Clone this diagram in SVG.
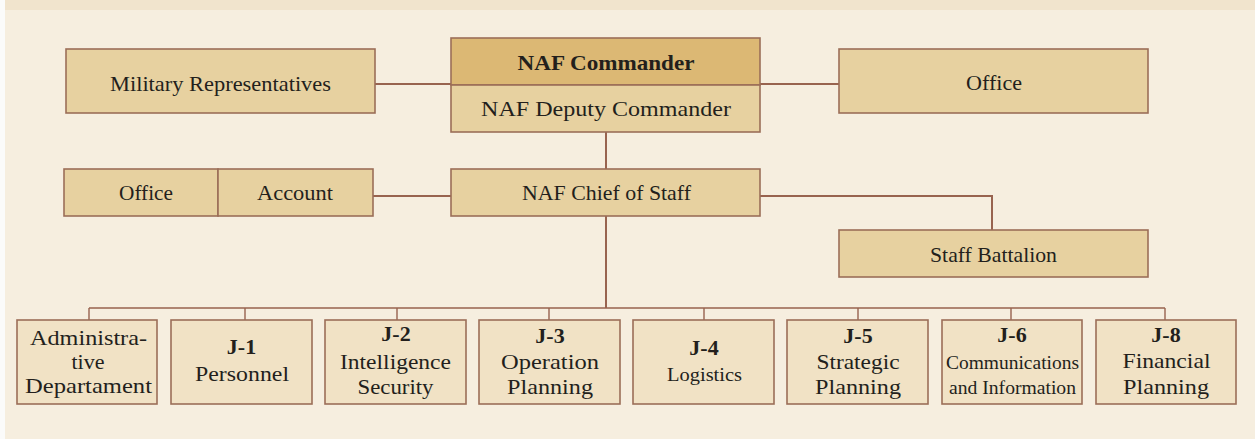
<svg xmlns="http://www.w3.org/2000/svg" width="1255" height="439" viewBox="0 0 1255 439">
<style>
.bx{fill:#e7d1a0;stroke:#9c6e58;stroke-width:1.6}
.cmd{fill:#dcb874;stroke:#9c6e58;stroke-width:1.6}
.lo{fill:#f1e2c5;stroke:#9c6e58;stroke-width:1.6}
.t{font-family:"Liberation Serif","Times New Roman",serif;font-size:22px;fill:#231f1c;text-anchor:middle}
.b{font-weight:bold}
.s{font-size:18px}
.ln{fill:none;stroke:#98634f;stroke-width:2}
.th{fill:none;stroke:#98634f;stroke-width:1.4}
</style>
<rect x="0" y="0" width="1255" height="439" fill="#fbfbfa"/>
<rect x="5" y="0" width="1250" height="439" fill="#f6eedf"/>
<rect x="5" y="0" width="1250" height="10" fill="#f1e4cd"/>
<g id="connectors">
<path class="ln" d="M375 84H451M760 84H839M606 132V169M373 196H451M760 196H992V230M606 216V308"/>
<path class="th" d="M89 308H1165M89 308V320M245 308V320M397 308V320M549 308V320M704 308V320M858 308V320M1011 308V320M1165 308V320"/>
</g>
<g id="mil-rep"><rect class="bx" x="66" y="49" width="309" height="64"/><text class="t" x="220.5" y="90.5" textLength="221" lengthAdjust="spacingAndGlyphs">Military Representatives</text></g>
<g id="naf-commander"><rect class="cmd" x="451" y="38" width="309" height="47"/><text class="t b" x="606" y="69.5" textLength="177" lengthAdjust="spacingAndGlyphs">NAF Commander</text></g>
<g id="naf-deputy"><rect class="bx" x="451" y="85" width="309" height="47"/><text class="t" x="606" y="116" textLength="250" lengthAdjust="spacingAndGlyphs">NAF Deputy Commander</text></g>
<g id="office-right"><rect class="bx" x="839" y="49" width="309" height="64"/><text class="t" x="994" y="89.5" textLength="56" lengthAdjust="spacingAndGlyphs">Office</text></g>
<g id="office-left"><rect class="bx" x="64" y="169" width="154" height="47"/><text class="t" x="146" y="200" textLength="54" lengthAdjust="spacingAndGlyphs">Office</text></g>
<g id="account"><rect class="bx" x="218" y="169" width="155" height="47"/><text class="t" x="295" y="200" textLength="76" lengthAdjust="spacingAndGlyphs">Account</text></g>
<g id="chief-of-staff"><rect class="bx" x="451" y="169" width="309" height="47"/><text class="t" x="606.5" y="200" textLength="169" lengthAdjust="spacingAndGlyphs">NAF Chief of Staff</text></g>
<g id="staff-battalion"><rect class="bx" x="839" y="230" width="309" height="47"/><text class="t" x="993.5" y="262" textLength="127" lengthAdjust="spacingAndGlyphs">Staff Battalion</text></g>
<g id="admin"><rect class="lo" x="17" y="320" width="140" height="84"/>
<text class="t" x="88.5" y="344.5" textLength="117" lengthAdjust="spacingAndGlyphs">Administra-</text>
<text class="t" x="88" y="368.5">tive</text>
<text class="t" x="88.5" y="392.5" textLength="127" lengthAdjust="spacingAndGlyphs">Departament</text></g>
<g id="j1"><rect class="lo" x="171" y="320" width="141" height="84"/>
<text class="t b" x="241.5" y="354">J-1</text>
<text class="t" x="242" y="380.5" textLength="94" lengthAdjust="spacingAndGlyphs">Personnel</text></g>
<g id="j2"><rect class="lo" x="325" y="320" width="141" height="84"/>
<text class="t b" x="396" y="341">J-2</text>
<text class="t" x="395.5" y="368.5" textLength="111" lengthAdjust="spacingAndGlyphs">Intelligence</text>
<text class="t" x="395.5" y="394" textLength="76" lengthAdjust="spacingAndGlyphs">Security</text></g>
<g id="j3"><rect class="lo" x="479" y="320" width="141" height="84"/>
<text class="t b" x="550" y="343">J-3</text>
<text class="t" x="550" y="368.5" textLength="98" lengthAdjust="spacingAndGlyphs">Operation</text>
<text class="t" x="550" y="393.5" textLength="86" lengthAdjust="spacingAndGlyphs">Planning</text></g>
<g id="j4"><rect class="lo" x="633" y="320" width="141" height="84"/>
<text class="t b" x="704" y="355">J-4</text>
<text class="t s" x="704.5" y="380.5" textLength="75" lengthAdjust="spacingAndGlyphs">Logistics</text></g>
<g id="j5"><rect class="lo" x="787" y="320" width="141" height="84"/>
<text class="t b" x="858" y="343">J-5</text>
<text class="t" x="858" y="368.5" textLength="83" lengthAdjust="spacingAndGlyphs">Strategic</text>
<text class="t" x="858" y="393.5" textLength="86" lengthAdjust="spacingAndGlyphs">Planning</text></g>
<g id="j6"><rect class="lo" x="942" y="320" width="140" height="84"/>
<text class="t b" x="1012" y="341.5">J-6</text>
<text class="t s" x="1012.5" y="368.5" textLength="133" lengthAdjust="spacingAndGlyphs">Communications</text>
<text class="t s" x="1012.5" y="393.5" textLength="127" lengthAdjust="spacingAndGlyphs">and Information</text></g>
<g id="j8"><rect class="lo" x="1096" y="320" width="140" height="84"/>
<text class="t b" x="1166" y="341.5">J-8</text>
<text class="t" x="1166.5" y="367.5" textLength="88" lengthAdjust="spacingAndGlyphs">Financial</text>
<text class="t" x="1166" y="393.5" textLength="86" lengthAdjust="spacingAndGlyphs">Planning</text></g>
</svg>
